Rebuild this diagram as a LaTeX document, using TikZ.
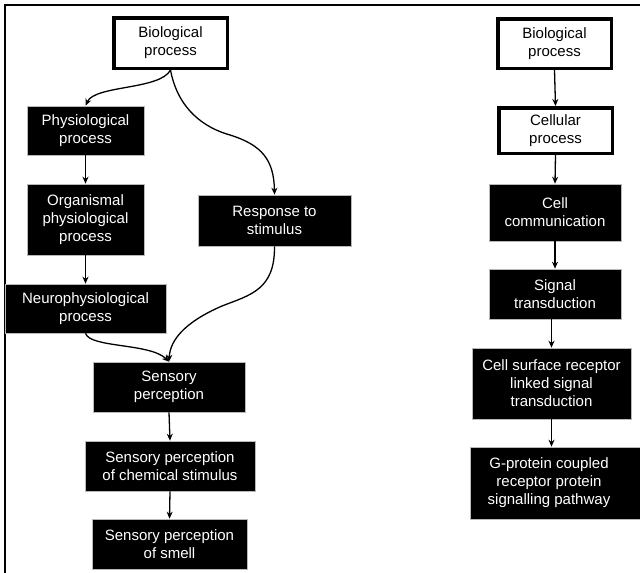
\documentclass[tikz,border=0pt]{standalone}
\usepackage{fontspec}
\setmainfont{Liberation Sans}
\usetikzlibrary{arrows.meta}
\tikzset{
  boxtext/.style={font=\fontsize{15}{18}\selectfont, align=center, inner sep=0pt},
  blk/.style={boxtext, fill=black, draw=gray!55, line width=0.6pt, text=white},
  wht/.style={boxtext, fill=white, draw=black, line width=3.5pt, text=black},
  conn/.style={line width=1.3pt, -{Stealth[length=7pt,width=6pt]}},
  frame/.style={line width=1.3pt}
}
\begin{document}
\begin{tikzpicture}[x=1pt,y=-1pt]
\useasboundingbox (0,0) rectangle (640,573);
% frame
\coordinate (ftr) at (640,5);
\coordinate (ftl) at (5,5);
\coordinate (fbl) at (5,573);
\draw[frame] (ftr) -- (ftl) -- (fbl);

% left tree
\node[wht, minimum width=113.5, minimum height=50.5] (lbio) at (170.5,43) {Biological\\process};
\node[blk, minimum width=117, minimum height=49] (phys) at (85.5,130.5) {Physiological\\process};
\node[blk, minimum width=117, minimum height=71] (org) at (85.5,219.5) {Organismal\\physiological\\process};
\node[blk, minimum width=153, minimum height=51] (resp) at (274.5,220.5) {Response to\\stimulus};
\node[blk, minimum width=161, minimum height=49] (neuro) at (85.5,308.5) {Neurophysiological\\process};
\node[blk, minimum width=152, minimum height=50] (sens) at (169,387) {Sensory\\perception};
\node[blk, minimum width=170, minimum height=50] (chem) at (170,466) {Sensory perception\\of chemical stimulus};
\node[blk, minimum width=155, minimum height=50] (smell) at (169.5,544) {Sensory perception\\of smell};

\draw[conn] (lbio.south) .. controls (160,90) and (95,85) .. (phys.north);
\draw[conn] (lbio.south) .. controls (178,110) and (205,128) .. (230,135)
            .. controls (262,145) and (274,160) .. (resp.north);
\draw[conn] (phys.south) -- (org.north);
\draw[conn] (org.south) -- (neuro.north);
\draw[conn] (neuro.south) .. controls (90,348) and (150,343) .. (sens.north);
\draw[conn] (resp.south) .. controls (275,290) and (250,295) .. (222,306)
            .. controls (185,322) and (170,340) .. (sens.north);
\draw[conn] (sens.south) -- (chem.north);
\draw[conn] (chem.south) -- (smell.north);

% right tree
\node[wht, minimum width=113.5, minimum height=49.5] (rbio) at (554.5,43.5) {Biological\\process};
\node[wht, minimum width=113.5, minimum height=45.5] (cell) at (555.5,130.5) {Cellular\\process};
\node[blk, minimum width=132, minimum height=57] (comm) at (555,212.5) {Cell\\communication};
\node[blk, minimum width=132, minimum height=50] (sig) at (555,294) {Signal\\transduction};
\node[blk, minimum width=159, minimum height=71] (surf) at (551.5,383.5) {Cell surface receptor\\linked signal\\transduction};
\node[blk, minimum width=172, minimum height=72] (gprot) at (556,483) {};
\node[boxtext, text=white] (gprottext) at (549,483) {G-protein coupled\\receptor protein\\signalling pathway};

\draw[conn] (rbio.south) -- (cell.north);
\draw[conn] (cell.south) -- (comm.north);
\draw[conn] (comm.south) -- (sig.north);
\draw[conn] (sig.south -| surf.north) -- (surf.north);
\draw[conn] (surf.south) -- (surf.south |- gprot.north);
\end{tikzpicture}
\end{document}
